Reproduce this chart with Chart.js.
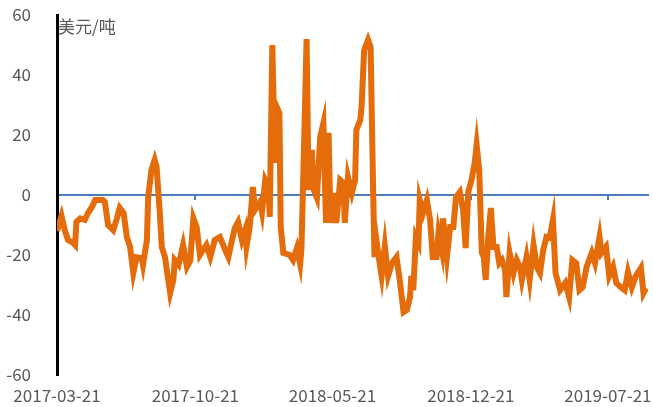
<!DOCTYPE html>
<html>
<head>
<meta charset="utf-8">
<script src="https://cdn.jsdelivr.net/npm/chart.js@4.4.1/dist/chart.umd.min.js"></script>
<style>
    html, body { margin: 0; padding: 0; background: #fff; }
</style>
</head>
<body>
<canvas id="CHART" width="653" height="407"></canvas>
<script>
"use strict"

const dates = [
    "2017-03-21", "2017-03-28", "2017-04-02", "2017-04-07", "2017-04-15", "2017-04-18", "2017-04-20", "2017-04-26",
    "2017-05-03", "2017-05-08", "2017-05-14", "2017-05-19", "2017-05-31", "2017-06-03", "2017-06-08", "2017-06-16",
    "2017-06-21", "2017-06-26", "2017-07-02", "2017-07-07", "2017-07-12", "2017-07-17", "2017-07-22", "2017-07-30",
    "2017-08-01", "2017-08-07", "2017-08-09", "2017-08-14", "2017-08-19", "2017-08-22", "2017-08-27", "2017-08-30",
    "2017-09-04", "2017-09-12", "2017-09-17", "2017-09-19", "2017-09-25", "2017-10-02", "2017-10-08", "2017-10-13",
    "2017-10-18", "2017-10-23", "2017-10-28", "2017-11-02", "2017-11-07", "2017-11-13", "2017-11-20", "2017-11-28",
    "2017-12-06", "2017-12-11", "2017-12-16", "2017-12-21", "2017-12-26", "2018-01-01", "2018-01-06", "2018-01-08",
    "2018-01-13", "2018-01-18", "2018-01-21", "2018-01-29", "2018-02-01", "2018-02-06", "2018-02-11", "2018-02-13",
    "2018-02-17", "2018-02-21", "2018-02-24", "2018-02-28", "2018-03-02", "2018-03-06", "2018-03-16", "2018-03-21",
    "2018-03-27", "2018-04-01", "2018-04-03", "2018-04-07", "2018-04-11", "2018-04-14", "2018-04-19", "2018-04-22",
    "2018-04-27", "2018-05-02", "2018-05-07", "2018-05-11", "2018-05-15", "2018-05-18", "2018-05-25", "2018-05-27",
    "2018-06-02", "2018-06-07", "2018-06-09", "2018-06-14", "2018-06-20", "2018-06-25", "2018-06-27", "2018-07-03",
    "2018-07-05", "2018-07-09", "2018-07-15", "2018-07-19", "2018-07-23", "2018-07-25", "2018-07-28", "2018-08-03",
    "2018-08-05", "2018-08-10", "2018-08-15", "2018-08-21", "2018-08-28", "2018-09-02", "2018-09-08", "2018-09-13",
    "2018-09-18", "2018-09-20", "2018-09-23", "2018-09-27", "2018-10-01", "2018-10-03", "2018-10-08", "2018-10-14",
    "2018-10-19", "2018-10-23", "2018-10-29", "2018-11-01", "2018-11-06", "2018-11-08", "2018-11-14", "2018-11-19",
    "2018-11-24", "2018-11-28", "2018-12-04", "2018-12-09", "2018-12-13", "2018-12-17", "2018-12-22", "2018-12-27",
    "2018-12-30", "2019-01-03", "2019-01-07", "2019-01-10", "2019-01-13", "2019-01-17", "2019-01-21", "2019-01-25",
    "2019-01-30", "2019-02-03", "2019-02-07", "2019-02-12", "2019-02-14", "2019-02-19", "2019-02-25", "2019-03-02",
    "2019-03-07", "2019-03-10", "2019-03-17", "2019-03-22", "2019-03-28", "2019-04-02", "2019-04-07", "2019-04-12",
    "2019-04-17", "2019-04-22", "2019-04-27", "2019-05-01", "2019-05-08", "2019-05-16", "2019-05-22", "2019-05-27",
    "2019-06-02", "2019-06-07", "2019-06-12", "2019-06-18", "2019-06-26", "2019-07-01", "2019-07-08", "2019-07-11",
    "2019-07-18", "2019-07-23", "2019-07-29", "2019-08-03", "2019-08-10", "2019-08-16", "2019-08-21", "2019-08-27",
    "2019-09-02", "2019-09-10", "2019-09-14", "2019-09-18",
]
const spread = [
    -12, -7, -11.7, -15, -16, -16.7, -9, -7.8,
    -8.3, -6, -4, -1.7, -1.7, -2.3, -10, -11.7,
    -8.3, -4.3, -6, -14, -17.3, -26, -20.7, -21,
    -23.3, -15, -0.7, 8.3, 11.7, 9.3, -6, -17.3,
    -20.7, -32.7, -28.3, -21.7, -23.3, -16.7, -24, -22,
    -7.8, -10.7, -20, -18.3, -16.7, -20.7, -15, -14,
    -18.3, -20.7, -15.7, -11, -9, -15, -11.7, -17.3,
    -10.7, 2.7, -5, -2.3, -5.7, 5, 2.7, -7.3,
    50, 10.7, 29.3, 27.3, -10.7, -19.3, -20, -21.7,
    -17.7, -23, -18, 16, 52, 1.7, 15, 1.7,
    -1, 19.3, 24, -9.3, 20.7, -9.3, 0.7, -9.3,
    5, 4, -9.3, 6, 0.7, 5, 21.7, 25,
    29.3, 48.3, 51.7, 49.3, 0.7, -20.7, -15, -24.3,
    -27, -17, -27, -22.7, -20.7, -28.3, -39, -38.3,
    -34, -27, -31.7, -14, -16, -1.7, -6, -1.7,
    -8.3, -20.7, -20.7, -12.7, -18.3, -7.8, -20.7, -10.7,
    -10.7, -0.7, 1, -5, -17.7, 1, 5, 10.7,
    16.7, 8.3, -19.3, -20.7, -28.3, -14, -4.3, -17.3,
    -17.3, -22.7, -21.7, -25, -34, -19.3, -26, -21.7,
    -24, -28.3, -20.7, -28.3, -16.7, -24, -26, -18.3,
    -14, -14.3, -8.3, -26, -31.7, -29.3, -34, -21.7,
    -22.7, -31.7, -30.7, -24, -19.3, -22.7, -14, -19.3,
    -17.3, -27, -24, -29.3, -30.7, -31.7, -25.7, -30.7,
    -27, -24.3, -32.7, -31,
]
const xtick_dates = ["2017-03-21", "2017-10-21", "2018-05-21", "2018-12-21", "2019-07-21"]
const x_end = "2019-09-21"
const unit = "美元/吨"

const day_ms = 24 * 3600 * 1000
const t0 = Date.parse(dates[0])
function toDay(s) { return Math.round((Date.parse(s) - t0) / day_ms) }
function toDate(d) { return new Date(t0 + d * day_ms).toISOString().slice(0, 10) }

const xticks = xtick_dates.map(toDay)
const font = { family: '"Noto Sans CJK SC", "Noto Sans", sans-serif', size: 17 }
const grey = "#595959"
const blue = "#4A7EBB"

const unitLabel = {
    id: "unitLabel",
    afterDraw(chart) {
        const { ctx, chartArea } = chart
        ctx.save()
        ctx.font = `17px ${font.family}`
        ctx.fillStyle = grey
        ctx.textBaseline = "middle"
        ctx.fillText(unit, chartArea.left + 1, chartArea.top + 12)
        ctx.restore()
    }
}

new Chart(CHART, {
    type: "line",
    data: {
        datasets: [{
            data: dates.map((d, i) => ({ x: toDay(d), y: spread[i] })),
            xAxisID: "x",
            borderColor: "#E46C0A",
            borderWidth: 6,
            pointRadius: 0,
            tension: 0,
            fill: false,
        }]
    },
    options: {
        animation: false,
        responsive: false,
        layout: { padding: { top: 15, right: 5, left: 0, bottom: 0 }, autoPadding: false },
        plugins: { legend: { display: false }, tooltip: { enabled: false } },
        scales: {
            x: {
                type: "linear",
                position: "bottom",
                min: 0,
                max: toDay(x_end),
                grid: { display: false, drawTicks: true, tickLength: 8 },
                border: { display: false },
                ticks: { color: grey, font: font, padding: 2, maxRotation: 0, autoSkip: false, callback: v => toDate(v) },
                afterBuildTicks: axis => axis.ticks = xticks.map(v => ({ value: v })),
                afterFit: axis => {
                    axis.height = 32
                    axis.paddingLeft = 0
                    axis.paddingRight = 0
                },
            },
            x2: {
                type: "linear",
                axis: "x",
                position: { y: 0 },
                min: 0,
                max: toDay(x_end),
                grid: { drawOnChartArea: false, color: blue, lineWidth: 2, tickLength: 4 },
                border: { color: blue, width: 2 },
                ticks: { display: false },
                afterBuildTicks: axis => axis.ticks = xticks.map(v => ({ value: v })),
            },
            y: {
                min: -60,
                max: 60,
                grid: { display: false, drawTicks: true, tickLength: 23 },
                border: { color: "#000", width: 3 },
                ticks: { stepSize: 20, color: grey, font: font, padding: 3 },
                afterFit: axis => {
                    axis.width = 57
                    axis.paddingTop = 0
                    axis.paddingBottom = 0
                },
            },
        },
    },
    plugins: [unitLabel],
})
</script>
</body>
</html>
